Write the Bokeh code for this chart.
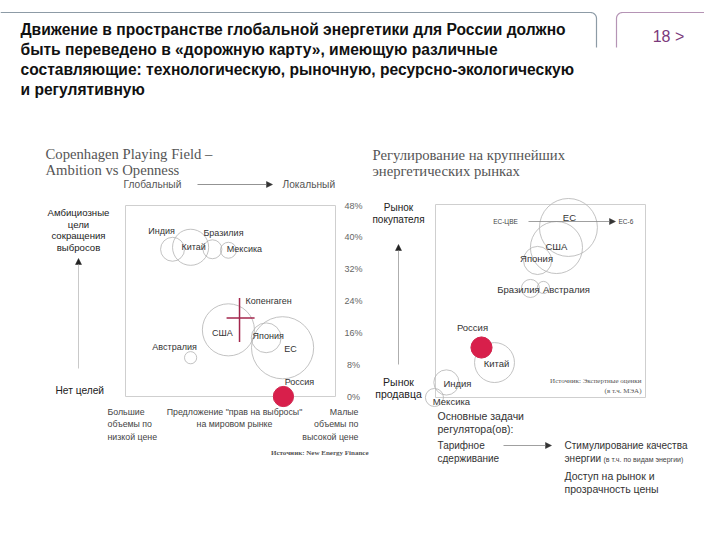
import numpy as np
from bokeh.plotting import figure
from bokeh.models import Range1d, Arrow, NormalHead, ColumnDataSource
from bokeh.core.properties import value
from bokeh.embed import file_html
from bokeh.resources import INLINE

# ---------------- data ----------------
title_lines = [
    "Движение в пространстве глобальной энергетики для России должно",
    "быть переведено в «дорожную карту», имеющую различные",
    "составляющие: технологическую, рыночную, ресурсно-экологическую",
    "и регулятивную",
]
page_label = "18 >"

# Left chart: Copenhagen Playing Field (x: 0 = global .. 100 = local, y: emission cut ambition, %)
left_title = ["Copenhagen Playing Field –", "Ambition vs Openness"]
left_names = ["Индия", "Китай", "Бразилия", "Мексика", "США", "Япония", "ЕС", "Австралия", "Россия"]
left_openness = [22.4, 31.0, 41.4, 49.0, 49.0, 67.0, 74.8, 31.0, 75.2]
left_ambition = [37.0, 37.5, 37.0, 36.75, 16.75, 14.75, 12.25, 9.75, 0.0]
left_size = [5.7, 8.6, 4.5, 3.8, 12.4, 7.1, 14.8, 2.9, 4.8]
left_ticks = [0, 8, 16, 24, 32, 40, 48]
copenhagen_name = "Копенгаген"
copenhagen_x = 54.8
copenhagen_y = 19.75

# Right chart: regulation on the largest energy markets (x: EU-CEE .. EU-6, y: seller .. buyer market)
right_title = ["Регулирование на крупнейших", "энергетических рынках"]
right_names = ["ЕС", "США", "Япония", "Бразилия", "Австралия", "Россия", "Китай", "Индия", "Мексика"]
right_x = [63.3, 57.6, 48.6, 45.2, 51.4, 21.9, 28.1, 5.2, -0.5]
right_y = [88.1, 77.7, 71.0, 56.5, 57.0, 25.9, 18.1, 7.8, 0.0]
right_size = [13.8, 12.4, 6.7, 4.3, 2.9, 5.0, 9.5, 6.0, 4.3]

highlight = "Россия"

# ---------------- layout ----------------
SANS = "Liberation Sans"
SERIF = "Liberation Serif"
CRIMSON = "#d81f4b"
CIRCLE_LINE = "#b3b3b3"
W, H = 704, 524

p = figure(width=W, height=H, output_backend="svg", toolbar_location=None,
           x_range=Range1d(0, W), y_range=Range1d(H, 0),
           x_axis_type=None, y_axis_type=None, min_border=0)
p.grid.visible = False
p.outline_line_color = None
p.background_fill_color = "white"
p.border_fill_color = "white"


def lin_range(v0, p0, v1, p1, pa, pb):
    s = (v1 - v0) / (p1 - p0)
    return Range1d(start=v0 + (pa - p0) * s, end=v0 + (pb - p0) * s)


# left chart frame: x 0..100 -> px 125..335 ; y 0..48 -> px 396..205
p.extra_x_ranges["lx"] = lin_range(0, 125, 100, 335, 0, W)
p.extra_y_ranges["ly"] = lin_range(0, 396, 48, 205, H, 0)
# right chart frame: x 0..100 -> px 435..645 ; y 0..100 -> px 397..204
p.extra_x_ranges["rx"] = lin_range(0, 435, 100, 645, 0, W)
p.extra_y_ranges["ry"] = lin_range(0, 397, 100, 204, H, 0)


def T(x, y, s, size, color="#333", align="left", font=SANS, style="normal"):
    p.text(x=[x], y=[y], text=[s], text_font=value(font), text_font_size=f"{size}px",
           text_font_style=style, text_color=color, text_align=align, text_baseline="middle")


def arrow(x0, y0, x1, y1, color="#777", head="#333"):
    p.add_layout(Arrow(end=NormalHead(size=6, fill_color=head, line_color=head, line_width=0.5),
                       x_start=x0, y_start=y0, x_end=x1, y_end=y1,
                       line_color=color, line_width=0.8))


# ---- header frame ----
def rounded_corner(cx, cy, r, a0, a1, n=12):
    a = np.linspace(a0, a1, n)
    return list(cx + r * np.cos(a)), list(cy + r * np.sin(a))

cx, cy = rounded_corner(590, 18, 6, -np.pi / 2, 0)
p.line([0] + cx + [596], [12] + cy + [47], line_color="#8d9ba6", line_width=1.2)
cx, cy = rounded_corner(622, 18, 6, np.pi, 1.5 * np.pi)
p.line([616] + cx + [W], [47] + cy + [12], line_color="#b594b5", line_width=1.2)
T(668, 36, page_label, 16, color="#7b3a7b", align="center")

for i, line in enumerate(title_lines):
    T(20, 28.5 + 20 * i, line, 15.6, color="#111", style="bold")

# ---------------- left chart ----------------
for i, s in enumerate(left_title):
    T(45, 153 + 16 * i, s, 14.7, color="#555", font=SERIF)
T(123, 184, "Глобальный", 10.2, color="#555")
arrow(197, 184, 272, 184)
T(282, 184, "Локальный", 10.2, color="#555")

p.quad(left=[0], right=[100], bottom=[0], top=[48], fill_color=None,
       line_color="#cfcfcf", line_width=1, x_range_name="lx", y_range_name="ly")

p.text(x=[353] * len(left_ticks), y=left_ticks, text=[f"{t}%" for t in left_ticks],
       text_font=value(SANS), text_font_size="9px", text_color="#666",
       text_align="center", text_baseline="middle", y_range_name="ly")

for i, s in enumerate(["Амбициозные", "цели", "сокращения", "выбросов"]):
    T(78, 212 + 11.5 * i, s, 9.6, color="#222", align="center")
arrow(78, 368, 78, 258, color="#bbb", head="#222")
T(55, 390, "Нет целей", 10.2, color="#222")

for i, s in enumerate(["Большие", "объемы по", "низкой цене"]):
    T(107, 411 + 12.5 * i, s, 8.8, color="#444")
for i, s in enumerate(["Предложение \"прав на выбросы\"", "на мировом рынке"]):
    T(234, 411 + 12.5 * i, s, 8.8, color="#444", align="center")
for i, s in enumerate(["Малые", "объемы по", "высокой цене"]):
    T(358, 411 + 12.5 * i, s, 8.8, color="#444", align="right")
T(368, 452, "Источник: New Energy Finance", 7, color="#555", align="right", font=SERIF, style="bold")

lsrc = ColumnDataSource(dict(x=left_openness, y=left_ambition, r=left_size, name=left_names))
p.circle(x="x", y="y", radius="r", source=lsrc, fill_color=None, line_color=CIRCLE_LINE,
         line_width=0.8, x_range_name="lx", y_range_name="ly")
hi = [i for i, n in enumerate(left_names) if n == highlight]
p.circle(x=[left_openness[i] for i in hi], y=[left_ambition[i] for i in hi],
         radius=[left_size[i] for i in hi], fill_color=CRIMSON, line_color=CRIMSON,
         x_range_name="lx", y_range_name="ly")

left_label_offsets = {"Индия": (-11, -18), "Китай": (3, 0), "Бразилия": (11, -16),
                      "Мексика": (16, -1), "США": (-6, 3), "Япония": (2, -2),
                      "ЕС": (8, 1), "Австралия": (-16, -11), "Россия": (16, -15)}
p.text(x=left_openness, y=left_ambition, text=left_names,
       x_offset=[left_label_offsets[n][0] for n in left_names],
       y_offset=[left_label_offsets[n][1] for n in left_names],
       text_font=value(SANS), text_font_size="9px", text_color="#333",
       text_align="center", text_baseline="middle", x_range_name="lx", y_range_name="ly")

p.scatter(x=[copenhagen_x], y=[copenhagen_y], marker="dash", size=28, line_color="#a3264c",
          line_width=1.5, x_range_name="lx", y_range_name="ly")
p.scatter(x=[copenhagen_x - 0.5], y=[copenhagen_y - 0.5], marker="dash", size=44, angle=np.pi / 2,
          line_color="#a3264c", line_width=1.5, x_range_name="lx", y_range_name="ly")
p.text(x=[copenhagen_x], y=[copenhagen_y], text=[copenhagen_name], x_offset=[5], y_offset=[-17],
       text_font=value(SANS), text_font_size="9px", text_color="#333",
       text_align="left", text_baseline="middle", x_range_name="lx", y_range_name="ly")

# ---------------- right chart ----------------
for i, s in enumerate(right_title):
    T(372, 154 + 16 * i, s, 14.7, color="#555", font=SERIF)
for i, s in enumerate(["Рынок", "покупателя"]):
    T(398, 207 + 12 * i, s, 10, color="#222", align="center")
arrow(398, 364, 398, 244, color="#999", head="#222")
for i, s in enumerate(["Рынок", "продавца"]):
    T(398, 381 + 12 * i, s, 10.5, color="#222", align="center")

p.quad(left=[0], right=[100], bottom=[0], top=[100], fill_color=None,
       line_color="#cfcfcf", line_width=1, x_range_name="rx", y_range_name="ry")

T(505, 221, "ЕС-ЦВЕ", 6.5, color="#444", align="center")
arrow(528, 221, 615, 221, color="#888")
T(618, 221, "ЕС-6", 6.5, color="#444")

rsrc = ColumnDataSource(dict(x=right_x, y=right_y, r=right_size, name=right_names))
p.circle(x="x", y="y", radius="r", source=rsrc, fill_color=None, line_color=CIRCLE_LINE,
         line_width=0.8, x_range_name="rx", y_range_name="ry")
hi = [i for i, n in enumerate(right_names) if n == highlight]
p.circle(x=[right_x[i] for i in hi], y=[right_y[i] for i in hi],
         radius=[right_size[i] for i in hi], fill_color=CRIMSON, line_color=CRIMSON,
         x_range_name="rx", y_range_name="ry")

right_label_offsets = {"ЕС": (1, -10), "США": (0, -1), "Япония": (-1, -2), "Бразилия": (-12, 1),
                       "Австралия": (23, 2), "Россия": (-9, -20), "Китай": (2, 1),
                       "Индия": (11, 1), "Мексика": (17, 4)}
p.text(x=right_x, y=right_y, text=right_names,
       x_offset=[right_label_offsets[n][0] for n in right_names],
       y_offset=[right_label_offsets[n][1] for n in right_names],
       text_font=value(SANS), text_font_size="9.5px", text_color="#333",
       text_align="center", text_baseline="middle", x_range_name="rx", y_range_name="ry")

T(641, 380, "Источник: Экспертные оценки", 7, color="#555", align="right", font=SERIF)
T(641, 390, "(в т.ч. МЭА)", 7, color="#555", align="right", font=SERIF)

T(437, 415, "Основные задачи", 10.5, color="#333")
T(437, 428, "регулятора(ов):", 10.5, color="#333")
T(437, 445, "Тарифное", 10, color="#333")
T(437, 458, "сдерживание", 10, color="#333")
arrow(503, 445, 551, 445, color="#888")
T(564, 445, "Стимулирование качества", 10, color="#333")
T(564, 458, "энергии", 10, color="#333")
T(603, 458.5, "(в т.ч. по видам энергии)", 7, color="#444")
T(564, 475, "Доступ на рынок и", 10.5, color="#333")
T(564, 488, "прозрачность цены", 10.5, color="#333")

open("out.html", "w").write(file_html(p, INLINE))
